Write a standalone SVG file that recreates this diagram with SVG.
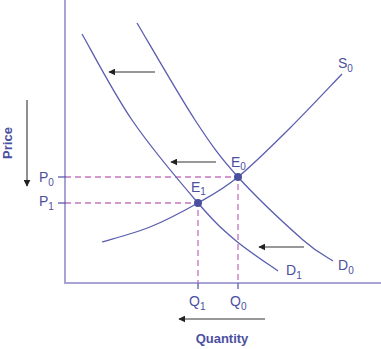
<svg xmlns="http://www.w3.org/2000/svg" width="381" height="349" viewBox="0 0 381 349">
<defs>
<marker id="ah" viewBox="0 0 10 10" refX="9" refY="5" markerWidth="7" markerHeight="7" markerUnits="userSpaceOnUse" orient="auto">
<path d="M0,0 L10,5 L0,10 z" fill="#222"/>
</marker>
<style>
.axis{stroke:#a7a3d3;stroke-width:2;fill:none}
.curve{stroke:#5a5eae;stroke-width:1.3;fill:none}
.dash{stroke:#c575bf;stroke-width:1.3;stroke-dasharray:6,4;fill:none}
.tick{stroke:#5a5eae;stroke-width:1.3}
.arr{stroke:#333;stroke-width:1.1;fill:none;marker-end:url(#ah)}
.lbl{font-family:"Liberation Sans",Arial,sans-serif;font-size:14px;fill:#4b4f9f}
.sub{font-size:10px}
.title{font-family:"Liberation Sans",Arial,sans-serif;font-size:13px;font-weight:bold;fill:#4b4f9f}
.dot{fill:#4b4f9f}
</style>
</defs>
<rect width="381" height="349" fill="#fff"/>
<g id="axes">
<line class="axis" x1="65" y1="0" x2="65" y2="283"/>
<line class="axis" x1="64" y1="283" x2="381" y2="283"/>
</g>
<g id="guides">
<path class="dash" d="M65,177 H238 V283"/>
<path class="dash" d="M65,203 H198 V283"/>
<line class="tick" x1="58" y1="177" x2="66" y2="177"/>
<line class="tick" x1="58" y1="203" x2="66" y2="203"/>
<line class="tick" x1="198" y1="283" x2="198" y2="289"/>
<line class="tick" x1="238" y1="283" x2="238" y2="289"/>
</g>
<g id="connectors">
<path id="D1" class="curve" d="M82,34 C90.3,48.3 112.7,91.8 132,120 C151.3,148.2 180.8,183 198,203 C215.2,223 221.7,228.7 235,240 C248.3,251.3 270.8,265.8 278,271"/>
<path id="D0" class="curve" d="M137,23 C146.7,39.2 178.2,94.3 195,120 C211.8,145.7 220,157 238,177 C256,197 287.2,226 303,240 C318.8,254 328,257.5 333,261"/>
<path id="S0" class="curve" d="M102,242 C110,239.5 134,233.5 150,227 C166,220.5 183.3,211.3 198,203 C212.7,194.7 222.7,189.5 238,177 C253.3,164.5 272.7,145.2 290,128 C307.3,110.8 333.3,83 342,74"/>
<line class="arr" x1="155" y1="72" x2="109" y2="72"/>
<line class="arr" x1="216" y1="162" x2="171" y2="162"/>
<line class="arr" x1="304" y1="247" x2="259" y2="247"/>
<line class="arr" x1="265" y1="319" x2="179" y2="319"/>
<line class="arr" x1="27" y1="100" x2="27" y2="186"/>
</g>
<g id="E0"><circle class="dot" cx="238" cy="177" r="4"/><text class="lbl" x="231" y="167">E<tspan class="sub" dy="3">0</tspan></text></g>
<g id="E1"><circle class="dot" cx="198" cy="203" r="4"/><text class="lbl" x="191" y="192">E<tspan class="sub" dy="3">1</tspan></text></g>
<g id="labels">
<text class="lbl" x="39" y="182">P<tspan class="sub" dy="4">0</tspan></text>
<text class="lbl" x="39" y="206">P<tspan class="sub" dy="4">1</tspan></text>
<text class="lbl" x="189" y="306">Q<tspan class="sub" dy="4">1</tspan></text>
<text class="lbl" x="230" y="306">Q<tspan class="sub" dy="4">0</tspan></text>
<text class="lbl" x="286" y="275">D<tspan class="sub" dy="4">1</tspan></text>
<text class="lbl" x="338" y="270">D<tspan class="sub" dy="4">0</tspan></text>
<text class="lbl" x="338" y="68">S<tspan class="sub" dy="4">0</tspan></text>
<text class="title" x="222" y="343" text-anchor="middle">Quantity</text>
<text class="title" transform="translate(12,143) rotate(-90)" text-anchor="middle">Price</text>
</g>
</svg>
